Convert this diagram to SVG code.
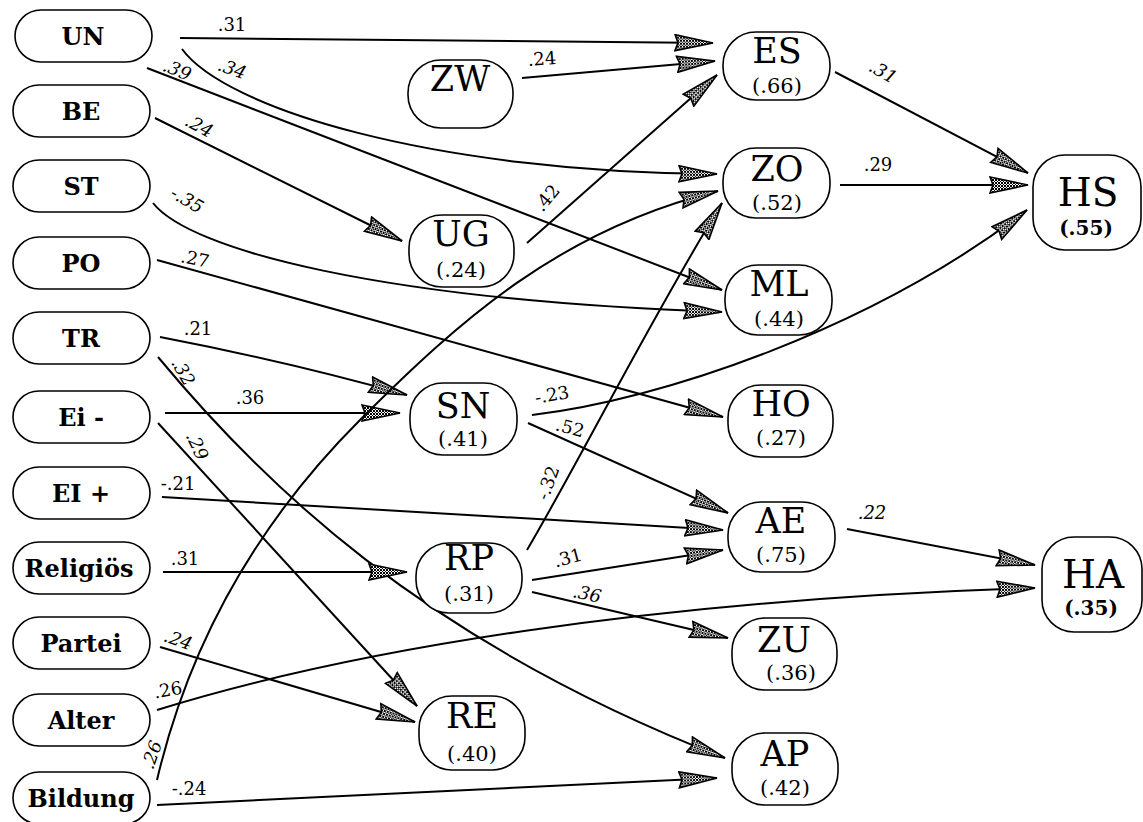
<svg xmlns="http://www.w3.org/2000/svg" width="1143" height="822" viewBox="0 0 1143 822">
<style>
.box{fill:#fff;stroke:#000;stroke-width:1.6}
.lt{font-family:"DejaVu Serif","Liberation Serif",serif;font-weight:bold;font-size:24px;text-anchor:middle}
.mt{font-family:"DejaVu Serif","Liberation Serif",serif;font-size:35px;text-anchor:middle}
.nt{font-family:"DejaVu Serif","Liberation Serif",serif;font-size:21px;text-anchor:middle}
.bt{font-family:"DejaVu Serif","Liberation Serif",serif;font-size:39px;text-anchor:middle}
.bn{font-family:"DejaVu Serif","Liberation Serif",serif;font-size:20px;font-weight:bold;text-anchor:middle}
.e{fill:none;stroke:#000;stroke-width:2;marker-end:url(#ah)}
.el{font-family:"DejaVu Serif","Liberation Serif",serif;font-size:18px;text-anchor:middle}
.it{font-style:italic}
</style>
<defs>
<pattern id="hatch" width="3" height="3" patternUnits="userSpaceOnUse">
<rect width="3" height="3" fill="#fff"/>
<path d="M0,0 L3,3 M3,0 L0,3" stroke="#000" stroke-width="1"/>
</pattern>
<marker id="ah" markerUnits="userSpaceOnUse" viewBox="-1 -1 42 18" markerWidth="42" markerHeight="18" refX="38" refY="8" orient="auto">
<path d="M0,0 L38,8 L0,16 L3,8 Z" fill="url(#hatch)" stroke="#000" stroke-width="1.6" stroke-linejoin="miter"/>
</marker>
</defs>

<g id="connectors">
<path class="e" d="M180,38 L713,43"/>
<path class="e" d="M522,78 L715,61"/>
<path class="e" d="M527,243 L717,75"/>
<path class="e" d="M182,49 C225,108 430,172 717,174"/>
<path class="e" d="M147,68 L722,290"/>
<path class="e" d="M155,118 L402,241"/>
<path class="e" d="M153,203 C190,250 380,300 722,312"/>
<path class="e" d="M157,260 L723,417"/>
<path class="e" d="M160,337 Q290,362 407,395"/>
<path class="e" d="M165,413 L400,413"/>
<path class="e" d="M158,357 C260,480 420,640 725,758"/>
<path class="e" d="M158,423 L417,706"/>
<path class="e" d="M162,497 L723,530"/>
<path class="e" d="M532,415 C660,400 870,330 1027,210"/>
<path class="e" d="M528,423 L728,513"/>
<path class="e" d="M527,550 C580,460 650,320 722,203"/>
<path class="e" d="M163,572 L407,572"/>
<path class="e" d="M532,580 L723,550"/>
<path class="e" d="M532,592 L728,638"/>
<path class="e" d="M160,647 L415,722"/>
<path class="e" d="M157,710 C350,650 650,600 1035,588"/>
<path class="e" d="M157,805 L717,778"/>
<path class="e" d="M157,780 C190,640 260,520 360,420 S560,230 718,191"/>
<path class="e" d="M835,72 L1028,173"/>
<path class="e" d="M840,185 L1028,185"/>
<path class="e" d="M847,529 L1035,565"/>

<text class="el" transform="translate(232,25)" y="6">.31</text>
<text class="el" transform="translate(542,59) rotate(-4)" y="6">.24</text>
<text class="el" transform="translate(547,198) rotate(-50)" y="6">.42</text>
<text class="el it" transform="translate(232,69) rotate(20)" y="6">.34</text>
<text class="el it" transform="translate(177,70) rotate(22)" y="6">.39</text>
<text class="el it" transform="translate(199,126) rotate(28)" y="6">.24</text>
<text class="el it" transform="translate(187,200) rotate(30)" y="6">-.35</text>
<text class="el" transform="translate(195,259) rotate(12)" y="6">.27</text>
<text class="el" transform="translate(198,329)" y="6">.21</text>
<text class="el" transform="translate(250,398)" y="6">.36</text>
<text class="el it" transform="translate(183,372) rotate(60)" y="6">.32</text>
<text class="el it" transform="translate(197,446) rotate(65)" y="6">.29</text>
<text class="el" transform="translate(178,484)" y="6">-.21</text>
<text class="el" transform="translate(552,395) rotate(-10)" y="6">-.23</text>
<text class="el" transform="translate(570,428) rotate(15)" y="6">.52</text>
<text class="el" transform="translate(548,483) rotate(-70)" y="6">-.32</text>
<text class="el" transform="translate(185,559)" y="6">.31</text>
<text class="el" transform="translate(568,558) rotate(-15)" y="6">.31</text>
<text class="el it" transform="translate(587,594) rotate(12)" y="6">.36</text>
<text class="el it" transform="translate(178,640) rotate(20)" y="6">.24</text>
<text class="el" transform="translate(168,690) rotate(-10)" y="6">.26</text>
<text class="el" transform="translate(189,789)" y="6">-.24</text>
<text class="el it" transform="translate(152,755) rotate(-70)" y="6">.26</text>
<text class="el it" transform="translate(883,72) rotate(30)" y="6">.31</text>
<text class="el" transform="translate(878,165)" y="6">.29</text>
<text class="el it" transform="translate(872,513)" y="6">.22</text>
</g>

<g id="UN"><rect class="box" x="15" y="10" width="137" height="52" rx="26"/><text class="lt" x="83" y="45">UN</text></g>
<g id="BE"><rect class="box" x="13" y="85" width="137" height="52" rx="26"/><text class="lt" x="81" y="120">BE</text></g>
<g id="ST"><rect class="box" x="13" y="160" width="137" height="52" rx="26"/><text class="lt" x="81" y="195">ST</text></g>
<g id="PO"><rect class="box" x="13" y="237" width="137" height="52" rx="26"/><text class="lt" x="81" y="272">PO</text></g>
<g id="TR"><rect class="box" x="13" y="312" width="137" height="52" rx="26"/><text class="lt" x="81" y="347">TR</text></g>
<g id="Ei-"><rect class="box" x="13" y="391" width="137" height="52" rx="26"/><text class="lt" x="81" y="426">Ei -</text></g>
<g id="EI+"><rect class="box" x="13" y="467" width="137" height="52" rx="26"/><text class="lt" x="81" y="502">EI +</text></g>
<g id="Religioes"><rect class="box" x="13" y="542" width="137" height="52" rx="26"/><text class="lt" x="79" y="577">Religiös</text></g>
<g id="Partei"><rect class="box" x="13" y="617" width="137" height="52" rx="26"/><text class="lt" x="81" y="652">Partei</text></g>
<g id="Alter"><rect class="box" x="13" y="694" width="137" height="52" rx="26"/><text class="lt" x="81" y="729">Alter</text></g>
<g id="Bildung"><rect class="box" x="13" y="772" width="137" height="52" rx="26"/><text class="lt" x="81" y="807">Bildung</text></g>

<g id="ZW"><rect class="box" x="408" y="60" width="105" height="68" rx="33"/><text class="mt" x="460" y="91">ZW</text></g>
<g id="UG"><rect class="box" x="409" y="215" width="105" height="72" rx="33"/><text class="mt" x="461" y="246">UG</text><text class="nt" x="461" y="277">(.24)</text></g>
<g id="SN"><rect class="box" x="410" y="383" width="107" height="72" rx="33"/><text class="mt" x="463" y="418">SN</text><text class="nt" x="463" y="446">(.41)</text></g>
<g id="RP"><rect class="box" x="416" y="543" width="106" height="70" rx="33"/><text class="mt" x="469" y="570">RP</text><text class="nt" x="469" y="601">(.31)</text></g>
<g id="RE"><rect class="box" x="419" y="696" width="106" height="74" rx="33"/><text class="mt" x="472" y="728">RE</text><text class="nt" x="472" y="761">(.40)</text></g>

<g id="ES"><rect class="box" x="723" y="32" width="107" height="68" rx="33"/><text class="mt" x="777" y="63">ES</text><text class="nt" x="777" y="93">(.66)</text></g>
<g id="ZO"><rect class="box" x="723" y="148" width="107" height="70" rx="33"/><text class="mt" x="777" y="181">ZO</text><text class="nt" x="777" y="210">(.52)</text></g>
<g id="ML"><rect class="box" x="725" y="265" width="107" height="70" rx="33"/><text class="mt" x="779" y="296">ML</text><text class="nt" x="779" y="326">(.44)</text></g>
<g id="HO"><rect class="box" x="728" y="385" width="105" height="72" rx="33"/><text class="mt" x="781" y="416">HO</text><text class="nt" x="781" y="445">(.27)</text></g>
<g id="AE"><rect class="box" x="728" y="502" width="107" height="70" rx="33"/><text class="mt" x="781" y="533">AE</text><text class="nt" x="781" y="562">(.75)</text></g>
<g id="ZU"><rect class="box" x="732" y="618" width="105" height="72" rx="33"/><text class="mt" x="784" y="652">ZU</text><text class="nt" x="791" y="680">(.36)</text></g>
<g id="AP"><rect class="box" x="732" y="733" width="106" height="72" rx="33"/><text class="mt" x="785" y="766">AP</text><text class="nt" x="785" y="795">(.42)</text></g>

<g id="HS"><rect class="box" x="1033" y="155" width="108" height="95" rx="32"/><text class="bt" x="1088" y="206">HS</text><text class="bn" x="1086" y="235">(.55)</text></g>
<g id="HA"><rect class="box" x="1042" y="537" width="100" height="95" rx="32"/><text class="bt" x="1093" y="588">HA</text><text class="bn" x="1091" y="615">(.35)</text></g>
</svg>
